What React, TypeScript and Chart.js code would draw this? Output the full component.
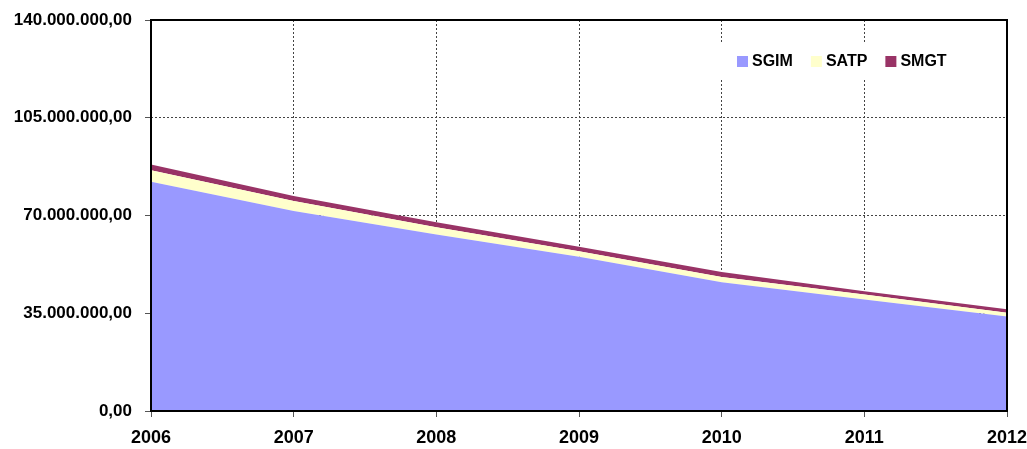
import React, { useEffect, useRef } from "react";
import { Chart, registerables } from "chart.js";

Chart.register(...registerables);

const years = ["2006", "2007", "2008", "2009", "2010", "2011", "2012"];
const seriesNames = ["SGIM", "SATP", "SMGT"];
const seriesColors = ["#9999FF", "#FFFFCC", "#993366"];
const sgim = [82100000, 71600000, 63200000, 55200000, 46100000, 39900000, 33800000];
const satp = [4100000, 3600000, 2600000, 2000000, 1900000, 1800000, 1400000];
const smgt = [2100000, 1800000, 1800000, 1600000, 1800000, 1200000, 1200000];
const yMax = 140000000;
const yStep = 35000000;

const FONT = "'Liberation Sans', Arial, sans-serif";

function fmt(v: number): string {
  const s = Math.round(v).toString();
  const parts: string[] = [];
  for (let i = s.length; i > 0; i -= 3) parts.unshift(s.substring(Math.max(0, i - 3), i));
  return parts.join(".") + ",00";
}

const framePlugin = {
  id: "frameAndLegend",
  afterDatasetsDraw(chart: any) {
    const { ctx, chartArea } = chart;
    ctx.save();
    ctx.strokeStyle = "#000";
    ctx.lineWidth = 2;
    ctx.strokeRect(chartArea.left, chartArea.top, chartArea.right - chartArea.left, chartArea.bottom - chartArea.top);
    // legend
    ctx.font = `bold 16px ${FONT}`;
    const cy = 61;
    let x = 737;
    ctx.fillStyle = "#fff";
    ctx.fillRect(718, 44, 240, 34);
    ctx.textBaseline = "middle";
    ctx.textAlign = "left";
    seriesNames.forEach((n, i) => {
      ctx.fillStyle = seriesColors[i];
      ctx.fillRect(x, cy - 5, 11, 11);
      ctx.fillStyle = "#000";
      ctx.fillText(n, x + 15, cy + 1);
      x += 15 + ctx.measureText(n).width + 18;
    });
    ctx.restore();
  },
};

export default function App() {
  const ref = useRef<HTMLCanvasElement>(null);
  useEffect(() => {
    document.body.style.margin = "0";
    const canvas = ref.current!;
    const chart = new Chart(canvas, {
      type: "line",
      data: {
        labels: years,
        datasets: [
          { label: seriesNames[0], data: sgim, backgroundColor: seriesColors[0], borderWidth: 0, pointRadius: 0, fill: "origin" },
          { label: seriesNames[1], data: satp, backgroundColor: seriesColors[1], borderWidth: 0, pointRadius: 0, fill: "-1" },
          { label: seriesNames[2], data: smgt, backgroundColor: seriesColors[2], borderWidth: 0, pointRadius: 0, fill: "-1" },
        ],
      },
      options: {
        animation: false,
        responsive: false,
        maintainAspectRatio: false,
        layout: { padding: { top: 20, right: 20, left: 0, bottom: 0 } },
        plugins: { legend: { display: false }, tooltip: { enabled: false } },
        elements: { line: { tension: 0 } },
        scales: {
          x: {
            stacked: true,
            offset: false,
            grid: { color: "#444", lineWidth: 1, tickLength: 6, tickColor: "#555", tickBorderDash: [] },
            border: { display: false, dash: [2, 2] },
            ticks: { color: "#000", font: { family: FONT, size: 18, weight: "bold" }, padding: 10, maxRotation: 0 },
            afterFit: (s: any) => { s.height = 38; s.paddingLeft = 0; s.paddingRight = 0; },
          },
          y: {
            stacked: true,
            min: 0,
            max: yMax,
            grid: { color: "#444", lineWidth: 1, tickLength: 6, tickColor: "#555", tickBorderDash: [] },
            border: { display: false, dash: [2, 2] },
            ticks: {
              stepSize: yStep,
              color: "#000",
              padding: 13,
              font: { family: FONT, size: 17, weight: "bold" },
              callback: (v: any) => fmt(Number(v)),
            },
            afterFit: (s: any) => { s.width = 151; s.paddingTop = 0; s.paddingBottom = 0; },
          },
        },
      },
      plugins: [framePlugin],
    });
    return () => chart.destroy();
  }, []);
  return (
    <div style={{ width: 1027, height: 449 }}>
      <canvas ref={ref} width={1027} height={449} style={{ display: "block" }} />
    </div>
  );
}
